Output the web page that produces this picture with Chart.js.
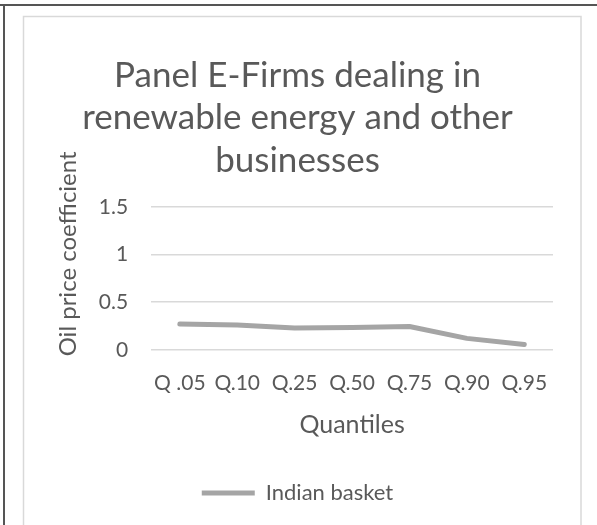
<!DOCTYPE html>
<html>
<head>
<meta charset="utf-8">
<script src="https://cdn.jsdelivr.net/npm/chart.js@4"></script>
<style>
  html, body { margin: 0; padding: 0; background: #fff; }
  #wrap { width: 597px; height: 525px; }
</style>
</head>
<body>
<div id="wrap"><canvas id="c" width="597" height="525"></canvas></div>
<script>
const categories = ['Q .05', 'Q.10', 'Q.25', 'Q.50', 'Q.75', 'Q.90', 'Q.95'];
const indianBasket = [0.27, 0.26, 0.23, 0.235, 0.245, 0.12, 0.055];
const yTicks = [0, 0.5, 1, 1.5];
const titleLines = ['Panel E-Firms dealing in', 'renewable energy and other', 'businesses'];
const yTitle = 'Oil price coefficient';

const TEXT = '#595959';
const FONT = 'Lato, "Open Sans", sans-serif';

// Frame: dark outer edge on top/left and a light inner chart border
const framePlugin = {
  id: 'frame',
  beforeDraw(chart) {
    const ctx = chart.ctx;
    ctx.save();
    ctx.fillStyle = '#fff';
    ctx.fillRect(0, 0, chart.width, chart.height);
    ctx.fillStyle = '#555';
    ctx.fillRect(0, 4, chart.width, 2);
    ctx.fillRect(3, 4, 2, chart.height - 4);
    ctx.strokeStyle = '#d9d9d9';
    ctx.lineWidth = 1.5;
    ctx.strokeRect(23.5, 16.5, 557.5, 510);
    ctx.restore();
  }
};

new Chart(document.getElementById('c'), {
  type: 'line',
  data: {
    labels: categories,
    datasets: [{
      label: 'Indian basket',
      data: indianBasket,
      borderColor: '#a5a5a5',
      backgroundColor: '#a5a5a5',
      borderWidth: 5,
      borderCapStyle: 'round',
      borderJoinStyle: 'round',
      pointRadius: 0,
      pointHoverRadius: 0,
      pointStyle: 'line',
      tension: 0,
      fill: false
    }]
  },
  options: {
    responsive: false,
    animation: false,
    devicePixelRatio: 1,
    layout: { padding: { left: 42, right: 44, top: 54, bottom: 11 } },
    plugins: {
      title: {
        display: true,
        text: titleLines,
        color: TEXT,
        font: { family: FONT, size: 35, weight: 'normal', lineHeight: 1.22 },
        padding: { top: 0, bottom: 25 }
      },
      legend: {
        position: 'bottom',
        labels: {
          color: TEXT,
          font: { family: FONT, size: 22 },
          usePointStyle: true,
          pointStyle: 'line',
          pointStyleWidth: 53,
          boxHeight: 22,
          padding: 4
        }
      },
      tooltip: { enabled: false }
    },
    scales: {
      x: {
        offset: true,
        grid: { display: false },
        border: { display: false },
        ticks: { color: TEXT, font: { family: FONT, size: 21 }, padding: 13, maxRotation: 0, autoSkip: false },
        title: { display: true, text: 'Quantiles', color: TEXT, font: { family: FONT, size: 25 }, padding: { top: 1, bottom: 38 } }
      },
      y: {
        min: 0,
        max: 1.5,
        afterBuildTicks(axis) { axis.ticks = yTicks.map(v => ({ value: v })); },
        grid: { color: '#d9d9d9', lineWidth: 1.5, drawTicks: false },
        border: { display: false },
        ticks: { color: TEXT, font: { family: FONT, size: 21 }, padding: 23, callback: v => String(v) },
        title: {
          display: true,
          // leading no-break spaces lift the rotated title a little above the plot centre
          text: '\u00a0'.repeat(8) + yTitle,
          color: TEXT,
          font: { family: FONT, size: 24 },
          padding: { top: 12, bottom: -7 }
        }
      }
    }
  },
  plugins: [framePlugin]
});
</script>
</body>
</html>
